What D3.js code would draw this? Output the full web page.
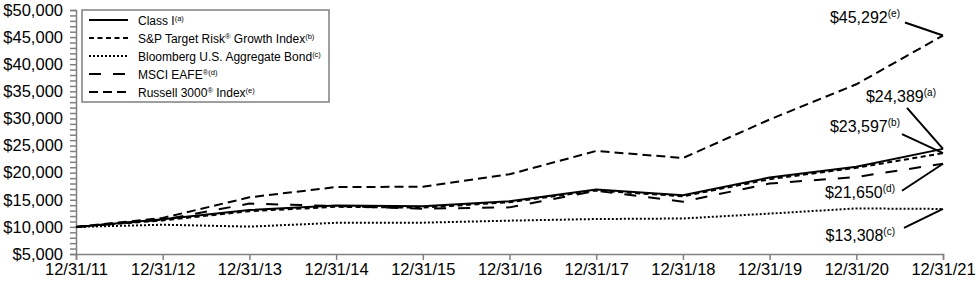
<!DOCTYPE html>
<html lang="en">
<head>
<meta charset="UTF-8">
<title>Growth of $10,000</title>
<script src="https://d3js.org/d3.v7.min.js"></script>
<style>
  body { margin: 0; background: #fff; font-family: "Liberation Sans", Arial, sans-serif; }
  svg text { fill: #000; }
</style>
</head>
<body>
<div id="chart"></div>
<script>
const width = 976, height = 286;

// data
const dates = ["12/31/11","12/31/12","12/31/13","12/31/14","12/31/15","12/31/16","12/31/17","12/31/18","12/31/19","12/31/20","12/31/21"];
const classI    = [10000, 11400, 13100, 13950, 13800, 14750, 16900, 15850, 19100, 21100, 24389];
const spTarget  = [10000, 11200, 12900, 13700, 13550, 14550, 16700, 15650, 18800, 20900, 23597];
const bloomberg = [10000, 10400, 10050, 10750, 10780, 11150, 11450, 11550, 12450, 13400, 13308];
const msciEafe  = [10000, 11300, 14300, 13850, 13350, 13600, 16650, 14650, 18000, 19200, 21650];
const russell   = [10000, 11650, 15450, 17350, 17400, 19700, 24000, 22700, 29800, 36300, 45292];
const yTicks = [5000,10000,15000,20000,25000,30000,35000,40000,45000,50000];

const series = [
  { name: "Class I", sup: "(a)", values: classI, dash: null },
  { name: "S&P Target Risk", reg: true, rest: " Growth Index", sup: "(b)", values: spTarget, dash: "5,3.5" },
  { name: "Bloomberg U.S. Aggregate Bond", sup: "(c)", values: bloomberg, dash: "2,2" },
  { name: "MSCI EAFE", reg: true, sup: "(d)", values: msciEafe, dash: "12,12" },
  { name: "Russell 3000", reg: true, rest: " Index", sup: "(e)", values: russell, dash: "9,5" }
];

const margin = { left: 76, right: 33, top: 10, bottom: 32 };

const svg = d3.select("#chart").append("svg")
  .attr("width", width).attr("height", height);

const x = d3.scaleLinear()
  .domain([0, dates.length - 1])
  .range([margin.left, width - margin.right]);

const y = d3.scaleLinear()
  .domain([5000, 50000])
  .range([height - margin.bottom, margin.top]);

// y axis, minor ticks every 1000
svg.append("g").attr("transform", `translate(${margin.left},0)`)
  .call(d3.axisLeft(y).tickValues(d3.range(5000, 50001, 1000)).tickSize(6).tickFormat(""));
const yLab = svg.append("g").attr("transform", `translate(${margin.left},0)`)
  .call(d3.axisLeft(y).tickValues(yTicks).tickSize(0).tickPadding(13)
    .tickFormat(d => "$" + d3.format(",")(d)));
yLab.select(".domain").remove();
yLab.selectAll("text").attr("font-size", 16.5).attr("font-family", "Liberation Sans, Arial, sans-serif");

const xAxis = svg.append("g").attr("transform", `translate(0,${y(5000)})`)
  .call(d3.axisBottom(x).tickValues(d3.range(dates.length)).tickSize(6).tickPadding(3)
    .tickFormat(i => dates[i]));
xAxis.selectAll("text").attr("font-size", 16.5).attr("font-family", "Liberation Sans, Arial, sans-serif");

svg.selectAll(".domain, .tick line").attr("stroke", "#808080").attr("stroke-width", 1.5);

// lines
const line = d3.line().x((d, i) => x(i)).y(d => y(d));
svg.append("g").selectAll("path")
  .data(series.slice().reverse())
  .join("path")
  .attr("d", s => line(s.values))
  .attr("fill", "none")
  .attr("stroke", "#000")
  .attr("stroke-width", 2)
  .attr("stroke-dasharray", s => s.dash);

// legend
const lg = svg.append("g").attr("transform", "translate(82,10)");
lg.append("rect").attr("width", 247).attr("height", 92)
  .attr("fill", "#fff").attr("stroke", "#7f7f7f").attr("stroke-width", 1.5);
series.forEach((s, i) => {
  const row = lg.append("g").attr("transform", `translate(0,${10 + i * 18})`);
  row.append("line").attr("x1", 7).attr("x2", 46).attr("y1", 0).attr("y2", 0)
    .attr("stroke", "#000").attr("stroke-width", 2).attr("stroke-dasharray", s.dash);
  const t = row.append("text").attr("x", 56).attr("y", 4.5).attr("font-size", 12);
  t.append("tspan").text(s.name);
  if (s.reg) t.append("tspan").attr("font-size", 7.5).attr("dy", -4).text("®");
  if (s.rest) t.append("tspan").attr("dy", s.reg ? 4 : 0).text(s.rest);
  const supDy = (s.reg && !s.rest) ? 0 : -4;
  t.append("tspan").attr("font-size", 7.5).attr("dy", supDy).text(s.sup);
});

// end value annotations: leader start (lx,ly) and text end/baseline (tx,ty) relative to end point
const last = dates.length - 1;
const notes = [
  { s: russell,   label: "$45,292", sup: "(e)", lx: -38, ly: -13, tx: -43, ty: -13 },
  { s: classI,    label: "$24,389", sup: "(a)", lx: -36, ly: -41, tx: -7,  ty: -47 },
  { s: spTarget,  label: "$23,597", sup: "(b)", lx: -41, ly: -19, tx: -43, ty: -21 },
  { s: msciEafe,  label: "$21,650", sup: "(d)", lx: -41, ly: 27,  tx: -48, ty: 34 },
  { s: bloomberg, label: "$13,308", sup: "(c)", lx: -39, ly: 19,  tx: -48, ty: 32 }
];
notes.forEach(n => {
  const ex = x(last), ey = y(n.s[last]);
  svg.append("line")
    .attr("x1", ex + n.lx).attr("y1", ey + n.ly)
    .attr("x2", ex).attr("y2", ey)
    .attr("stroke", "#000").attr("stroke-width", 2);
  const t = svg.append("text")
    .attr("x", ex + n.tx).attr("y", ey + n.ty)
    .attr("text-anchor", "end").attr("font-size", 16);
  t.append("tspan").text(n.label);
  t.append("tspan").attr("font-size", 10).attr("dy", -6).text(n.sup);
});
</script>
</body>
</html>
